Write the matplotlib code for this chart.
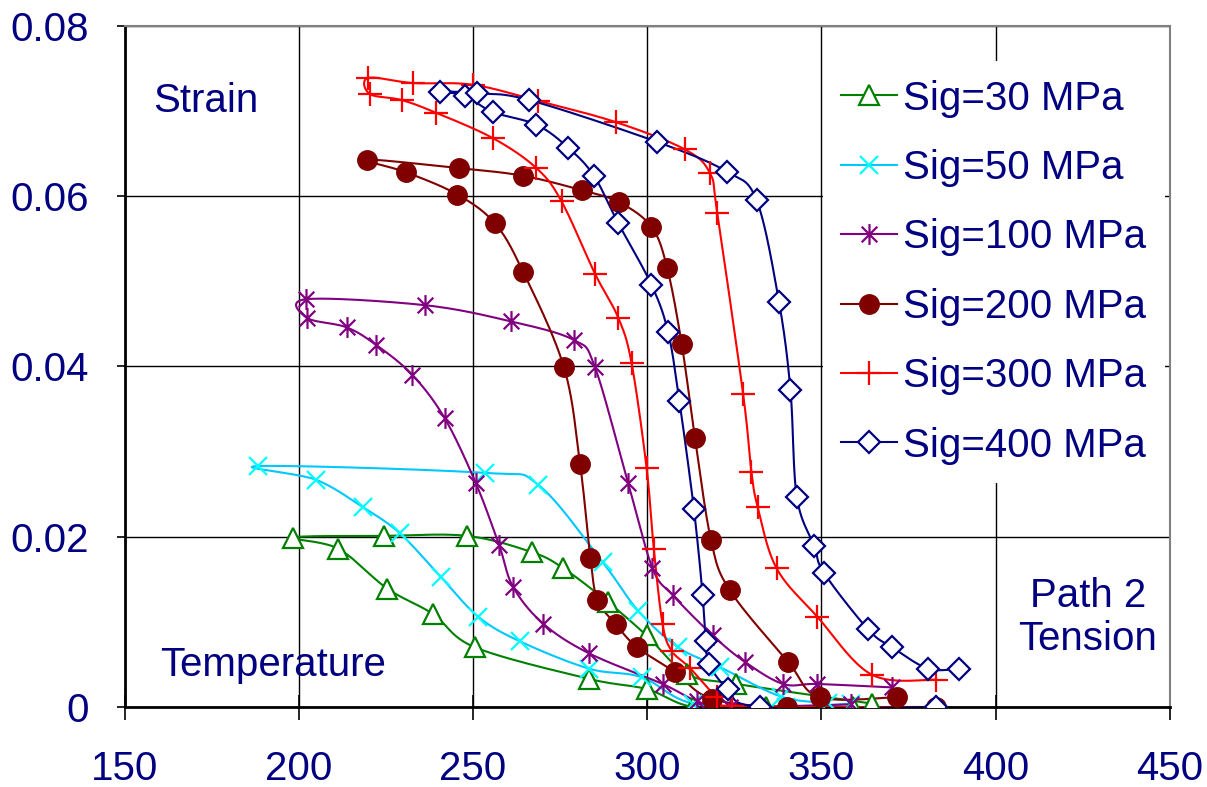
import numpy as np
import matplotlib
matplotlib.use("Agg")
import matplotlib.pyplot as plt
from matplotlib.path import Path

plt.rcParams['font.family'] = ['Liberation Sans', 'DejaVu Sans']

navy = '#000080'

# temperature / strain, each series runs cooling branch then heating branch
t30 = [359.0, 334.2, 313.2, 299.8, 283.3, 250.6, 238.6, 225.4, 211.3, 198.2,
       224.4, 248.2, 266.8, 275.9, 288.8, 299.8, 311.3, 325.6, 364.4]
s30 = [0.0, 0.0, 0.0, 0.0021, 0.0033, 0.0070, 0.0109, 0.0139, 0.0186, 0.0199,
       0.0201, 0.0201, 0.0182, 0.0163, 0.0123, 0.0084, 0.0039, 0.0027, 0.0004]

t50 = [358.6, 339.8, 313.2, 298.4, 283.3, 263.5, 251.5, 240.7, 229.0, 218.3, 204.9, 188.4,
       253.4, 268.7, 287.2, 297.4, 308.9, 320.8, 338.5, 352.0]
s50 = [0.0004, 0.0, 0.0004, 0.0035, 0.0045, 0.0077, 0.0106, 0.0153, 0.0204, 0.0235, 0.0267, 0.0283,
       0.0275, 0.0261, 0.0170, 0.0113, 0.0070, 0.0047, 0.0012, 0.0005]

t100 = [358.6, 323.7, 314.2, 304.4, 283.3, 270.1, 261.5, 257.5, 250.8, 241.9, 232.6, 222.3, 213.7, 202.4, 202.1,
        236.2, 260.8, 279.0, 285.0, 294.5, 301.5, 307.4, 318.8, 328.0, 339.0, 348.8, 370.1]
s100 = [0.0003, 0.0, 0.0007, 0.0027, 0.0063, 0.0098, 0.0141, 0.0190, 0.0263, 0.0339, 0.0390, 0.0425, 0.0446, 0.0457, 0.0479,
        0.0472, 0.0453, 0.0431, 0.0399, 0.0263, 0.0163, 0.0131, 0.0084, 0.0053, 0.0027, 0.0027, 0.0023]

t200 = [383.0, 340.0, 318.5, 307.9, 297.1, 291.0, 285.7, 283.7, 280.7, 276.1, 264.4, 256.3, 245.5, 230.9, 219.5,
        246.0, 264.4, 281.2, 291.9, 301.2, 305.7, 309.9, 313.7, 318.3, 323.7, 340.4, 349.5, 371.7]
s200 = [0.0, 0.0, 0.00096, 0.0041, 0.0070, 0.0097, 0.0126, 0.0175, 0.0286, 0.0399, 0.0511, 0.0568, 0.0602, 0.0628, 0.0643,
        0.0633, 0.0624, 0.0607, 0.0593, 0.0564, 0.0516, 0.0426, 0.0316, 0.0196, 0.0137, 0.0053, 0.00115, 0.00115]

t300 = [383.0, 324.2, 319.9, 312.2, 307.0, 304.4, 301.9, 299.8, 295.5, 291.7, 285.0, 275.4, 268.2, 255.8, 239.4, 229.5, 220.4, 219.9,
        232.7, 249.9, 268.7, 291.0, 310.8, 318.0, 320.1, 327.5, 329.9, 331.7, 337.1, 348.8, 364.4, 383.0]
s300 = [0.0, 0.0001, 0.00115, 0.0046, 0.0066, 0.0097, 0.0185, 0.0281, 0.0404, 0.0457, 0.0509, 0.0594, 0.0633, 0.0668, 0.0698, 0.0713, 0.0720, 0.0739,
        0.0733, 0.0731, 0.0712, 0.0687, 0.0655, 0.0627, 0.0580, 0.0368, 0.0276, 0.0235, 0.0163, 0.0106, 0.0038, 0.0032]

t400 = [383.0, 332.4, 323.2, 317.8, 316.8, 315.9, 313.4, 309.2, 306.0, 301.2, 291.7, 284.7, 277.3, 268.2, 255.6, 247.7, 240.5,
        251.0, 266.1, 302.7, 322.8, 331.4, 337.8, 341.1, 342.9, 347.9, 350.8, 363.4, 370.3, 380.6, 389.4]
s400 = [0.0, 0.0, 0.0021, 0.0050, 0.0078, 0.0131, 0.0232, 0.0360, 0.0440, 0.0496, 0.0568, 0.0624, 0.0657, 0.0684, 0.0699, 0.0718, 0.0723,
        0.0721, 0.0713, 0.0664, 0.0629, 0.0595, 0.0476, 0.0372, 0.0247, 0.0189, 0.0157, 0.0091, 0.0070, 0.0045, 0.0045]

labels = ['Sig=30 MPa', 'Sig=50 MPa', 'Sig=100 MPa', 'Sig=200 MPa', 'Sig=300 MPa', 'Sig=400 MPa']


def smooth(x, y, n=24):
    # catmull-rom like the spreadsheet "smoothed line"
    p = np.column_stack([x, y]).astype(float)
    p = np.vstack([p[0], p, p[-1]])
    out = []
    for i in range(1, len(p) - 2):
        p0, p1, p2, p3 = p[i - 1], p[i], p[i + 1], p[i + 2]
        c1 = p1 + (p2 - p0) / 6
        c2 = p2 - (p3 - p1) / 6
        u = np.linspace(0, 1, n)[:, None]
        out.append((1 - u) ** 3 * p1 + 3 * (1 - u) ** 2 * u * c1 + 3 * (1 - u) * u ** 2 * c2 + u ** 3 * p2)
    out = np.vstack(out)
    return out[:, 0], out[:, 1]


# asterisk marker: X plus vertical bar
star = Path([(0, -1), (0, 1), (-0.75, -0.75), (0.75, 0.75), (-0.75, 0.75), (0.75, -0.75)],
            [Path.MOVETO, Path.LINETO, Path.MOVETO, Path.LINETO, Path.MOVETO, Path.LINETO])

series = [
    (t30, s30, '#008000', dict(marker='^', ms=14, mfc='white', mec='#008000', mew=1.6)),
    (t50, s50, '#00C8FF', dict(marker='x', ms=13, mec='#00FFFF', mew=1.6)),
    (t100, s100, '#800080', dict(marker=star, ms=15, mec='#800080', mew=1.6)),
    (t200, s200, '#800000', dict(marker='o', ms=14, mfc='#800000', mec='#800000')),
    (t300, s300, '#FF0000', dict(marker='+', ms=17, mec='#FF0000', mew=1.6)),
    (t400, s400, '#000080', dict(marker='D', ms=11, mfc='white', mec='#000080', mew=1.6)),
]

fig = plt.figure(figsize=(12.07, 7.87), dpi=100)
ax = fig.add_axes([0.1032, 0.1017, 0.8661, 0.8653])

handles = []
for (t, s, c, mk), lab in zip(series, labels):
    xs, ys = smooth(t, s)
    ax.plot(xs, ys, color=c, lw=1.5, zorder=3)
    ax.plot(t, s, ls='none', zorder=4, **mk)
    h, = ax.plot([], [], color=c, lw=1.5, **mk)
    handles.append(h)

ax.set_xlim(150, 450)
ax.set_ylim(0, 0.08)
ax.set_xticks([150, 200, 250, 300, 350, 400, 450])
ax.set_yticks([0, 0.02, 0.04, 0.06, 0.08])
ax.set_yticklabels(['0', '0.02', '0.04', '0.06', '0.08'])
ax.grid(True, color='black', lw=1.0)
ax.set_axisbelow(True)
ax.tick_params(axis='x', direction='inout', length=18, width=1.2, pad=22,
               labelsize=29, labelcolor=navy)
ax.tick_params(axis='y', direction='out', length=6, width=1.2, pad=20,
               labelsize=29, labelcolor=navy)
for side in ['left', 'bottom']:
    ax.spines[side].set_linewidth(2)
    ax.spines[side].set_color('black')
for side in ['top', 'right']:
    ax.spines[side].set_linewidth(1.5)
    ax.spines[side].set_color('#808080')

leg = ax.legend(handles=handles, labels=labels, loc='upper left',
                bbox_to_anchor=(0.668, 0.948), fontsize=29, frameon=True,
                fancybox=False, framealpha=1, edgecolor='none', facecolor='white',
                handlelength=1.4, handletextpad=0.15, labelspacing=0.78,
                borderpad=0.45, borderaxespad=0)
for txt in leg.get_texts():
    txt.set_color(navy)
leg.set_zorder(6)

ax.text(158.2, 0.0712, 'Strain', fontsize=29, color=navy, ha='left', va='center')
ax.text(160.2, 0.0049, 'Temperature', fontsize=29, color=navy, ha='left', va='center')
ax.text(426.4, 0.0105, 'Path 2\nTension', fontsize=29, color=navy, ha='center', va='center',
        linespacing=1.15)

fig.savefig('out.png', dpi=100)
